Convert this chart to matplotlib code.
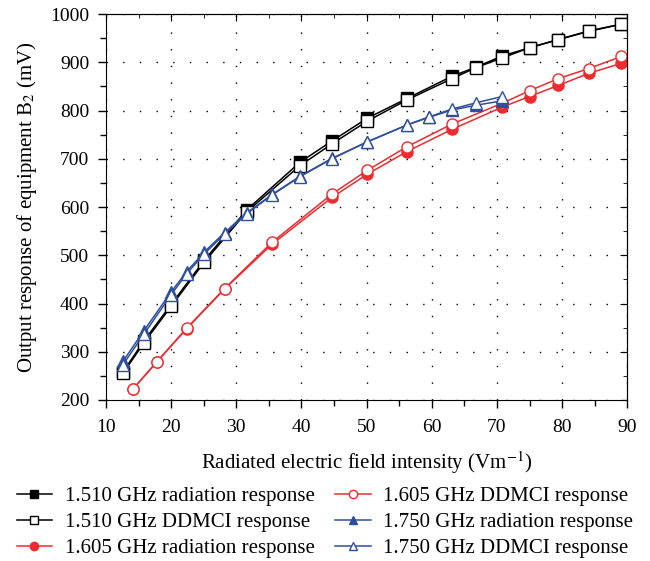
import matplotlib
matplotlib.use("Agg")
import matplotlib.pyplot as plt
from matplotlib.ticker import MultipleLocator

plt.rcParams['font.family'] = ['Liberation Serif', 'DejaVu Serif']
plt.rcParams['mathtext.fontset'] = 'stix'

# 1.510 GHz
x_black = [12.6, 15.8, 20.0, 25.1, 31.6, 39.8, 44.7, 50.1, 56.2, 63.1, 66.8, 70.8, 75.0, 79.4, 84.1, 89.1]
black_rad = [258, 322, 398, 490, 594, 693, 737, 784, 825, 871, 890, 913, 930, 947, 964, 979]
black_ddmci = [255, 318, 394, 486, 590, 686, 731, 778, 822, 866, 889, 909, 930, 947, 965, 979]

# 1.605 GHz
x_red = [14.1, 17.8, 22.4, 28.2, 35.5, 44.7, 50.1, 56.2, 63.1, 70.8, 75.0, 79.4, 84.1, 89.1]
red_rad = [222, 279, 348, 430, 523, 620, 668, 715, 761, 807, 829, 852, 877, 898]
red_ddmci = [222, 279, 349, 431, 527, 627, 676, 725, 772, 815, 841, 866, 887, 912]

# 1.750 GHz
x_blue = [12.6, 15.8, 20.0, 22.4, 25.1, 28.2, 31.6, 35.5, 39.8, 44.7, 50.1, 56.2, 59.6, 63.1, 66.8, 70.8]
blue_rad = [280, 343, 424, 466, 507, 547, 588, 626, 664, 701, 735, 770, 786, 801, 811, 820]
blue_ddmci = [273, 336, 418, 462, 503, 544, 586, 625, 663, 700, 735, 770, 787, 803, 816, 829]

labels = ['1.510 GHz radiation response', '1.510 GHz DDMCI response',
          '1.605 GHz radiation response', '1.605 GHz DDMCI response',
          '1.750 GHz radiation response', '1.750 GHz DDMCI response']

red = '#ee2b2e'
blue = '#2f4f9e'

fig = plt.figure(figsize=(6.5, 5.61), dpi=100)
ax = fig.add_axes([0.163, 0.287, 0.802, 0.688])

ms = 8
ax.plot(x_black, black_rad, '-s', color='black', mfc='black', mec='black', ms=ms, lw=1.1, label=labels[0])
ax.plot(x_black, black_ddmci, '-s', color='black', mfc='white', mec='black', ms=ms, lw=1.1, label=labels[1])
ax.plot(x_red, red_rad, '-o', color=red, mfc=red, mec=red, ms=ms, lw=1.1, label=labels[2])
ax.plot(x_red, red_ddmci, '-o', color=red, mfc='white', mec=red, ms=ms, lw=1.1, label=labels[3])
ax.plot(x_blue, blue_rad, '-^', color=blue, mfc=blue, mec=blue, ms=ms, lw=1.1, label=labels[4])
ax.plot(x_blue, blue_ddmci, '-^', color=blue, mfc='white', mec=blue, ms=ms, lw=1.1, label=labels[5])

ax.set_xlim(10, 90)
ax.set_ylim(200, 1000)
ax.xaxis.set_major_locator(MultipleLocator(10))
ax.xaxis.set_minor_locator(MultipleLocator(5))
ax.yaxis.set_major_locator(MultipleLocator(100))
ax.yaxis.set_minor_locator(MultipleLocator(50))
ax.tick_params(which='both', direction='out', labelsize=14, width=1)
ax.tick_params(which='major', length=6)
ax.tick_params(which='minor', length=4)
ax.tick_params(axis='x', which='major', pad=8)
ax.tick_params(axis='y', which='major', pad=6)
ax.grid(True, which='major', color='black', linestyle=(0, (1, 11)), linewidth=1)
ax.set_axisbelow(True)

# top and right ticks point inward
top = ax.secondary_xaxis('top')
top.xaxis.set_major_locator(MultipleLocator(10))
top.xaxis.set_minor_locator(MultipleLocator(5))
top.tick_params(which='both', direction='in', labeltop=False)
top.tick_params(which='major', length=5)
top.tick_params(which='minor', length=3)
right = ax.secondary_yaxis('right')
right.yaxis.set_major_locator(MultipleLocator(100))
right.yaxis.set_minor_locator(MultipleLocator(50))
right.tick_params(which='both', direction='in', labelright=False)
right.tick_params(which='major', length=5)
right.tick_params(which='minor', length=3)

ax.set_xlabel('Radiated electric field intensity (Vm$^{-1}$)', fontsize=15, labelpad=9)
ax.set_ylabel('Output response of equipment B$_2$ (mV)', fontsize=15, labelpad=8)

fig.legend(loc='lower center', bbox_to_anchor=(0.5, -0.028), ncol=2, frameon=False,
           fontsize=15, handlelength=1.7, handletextpad=0.6, columnspacing=1.0,
           markerscale=0.75, labelspacing=0.3)

fig.savefig('out.png', dpi=100)
